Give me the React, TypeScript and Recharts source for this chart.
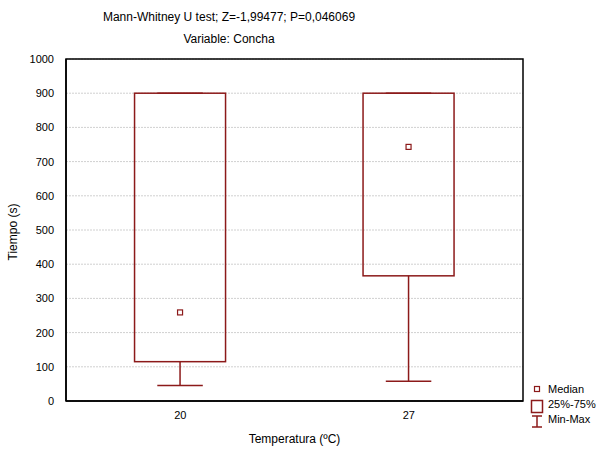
import React from 'react';
import { ComposedChart, Bar, XAxis, YAxis, CartesianGrid, ReferenceArea } from 'recharts';

const categories = ['20', '27'];
const minValues = [45, 58];
const q1Values = [115, 366];
const medianValues = [259, 743];
const q3Values = [900, 900];
const maxValues = [900, 900];
const yTicks = [0, 100, 200, 300, 400, 500, 600, 700, 800, 900, 1000];

const data = categories.map((c, i) => ({
  cat: c,
  min: minValues[i],
  q1: q1Values[i],
  median: medianValues[i],
  q3: q3Values[i],
  max: maxValues[i],
  range: [minValues[i], maxValues[i]],
}));

const RED = '#8c1a1a';
const FONT = '"Liberation Sans", Arial, sans-serif';

const BoxShape = (props: any) => {
  const { x, y, width, height, payload } = props;
  const { min, max, q1, q3, median } = payload;
  const span = max - min;
  const pix = (v: number) => y + (height * (max - v)) / span;
  const cx = x + width / 2;
  const capHalf = width / 4;
  const yq1 = pix(q1);
  const yq3 = pix(q3);
  const ymed = pix(median);
  const ymin = pix(min);
  const ymax = pix(max);
  return (
    <g>
      <line x1={cx} x2={cx} y1={yq1} y2={ymin} stroke={RED} strokeWidth={1.5} />
      <line x1={cx - capHalf} x2={cx + capHalf} y1={ymin} y2={ymin} stroke={RED} strokeWidth={1.5} />
      <line x1={cx} x2={cx} y1={ymax} y2={yq3} stroke={RED} strokeWidth={1.5} />
      <line x1={cx - capHalf} x2={cx + capHalf} y1={ymax} y2={ymax} stroke={RED} strokeWidth={1.5} />
      <rect x={x} y={yq3} width={width} height={yq1 - yq3} fill="none" stroke={RED} strokeWidth={1.5} />
      <rect x={cx - 2.5} y={ymed - 2.5} width={5} height={5} fill="#fff" stroke={RED} strokeWidth={1.2} />
    </g>
  );
};

export default function App() {
  return (
    <div style={{ position: 'absolute', left: 0, top: 0, width: 606, height: 452, fontFamily: FONT, background: '#fff' }}>
      <div style={{ position: 'absolute', left: 0, width: 458, top: 10, textAlign: 'center', fontSize: 12, lineHeight: '15px' }}>
        Mann-Whitney U test; Z=-1,99477; P=0,046069
      </div>
      <div style={{ position: 'absolute', left: 0, width: 458, top: 32, textAlign: 'center', fontSize: 12, lineHeight: '15px' }}>
        Variable: Concha
      </div>
      <ComposedChart
        width={606}
        height={452}
        data={data}
        margin={{ top: 59, right: 83, bottom: 21, left: 0 }}
        barCategoryGap="30%"
        style={{ position: 'absolute', left: 0, top: 0 }}
      >
        <CartesianGrid horizontal vertical={false} stroke="#d0d0d0" strokeDasharray="2 1" />
        <XAxis
          dataKey="cat"
          height={30}
          tick={{ fontSize: 11, fill: '#000', fontFamily: FONT }}
          tickLine={false}
          axisLine={{ stroke: '#000', strokeWidth: 1.5 }}
          tickMargin={4}
        />
        <YAxis
          width={66}
          domain={[0, 1000]}
          ticks={yTicks}
          interval={0}
          tick={{ fontSize: 11, fill: '#000', fontFamily: FONT }}
          tickLine={false}
          axisLine={{ stroke: '#000', strokeWidth: 1.5 }}
          tickMargin={6}
        />
        <ReferenceArea y1={0} y2={1000} fill="none" fillOpacity={0} stroke="#000" strokeWidth={1.5} ifOverflow="visible" />
        <Bar dataKey="range" isAnimationActive={false} shape={<BoxShape />} />
      </ComposedChart>
      <div
        style={{
          position: 'absolute',
          left: 13,
          top: 232,
          transform: 'translate(-50%, -50%) rotate(-90deg)',
          fontSize: 12,
          whiteSpace: 'nowrap',
        }}
      >
        Tiempo (s)
      </div>
      <div style={{ position: 'absolute', left: 0, width: 589, top: 432, textAlign: 'center', fontSize: 12, lineHeight: '15px' }}>
        Temperatura (ºC)
      </div>
      <svg style={{ position: 'absolute', left: 528, top: 382 }} width={20} height={48}>
        <rect x={6.5} y={4.5} width={5} height={5} fill="#fff" stroke={RED} strokeWidth={1.2} />
        <rect x={3.5} y={18.5} width={11} height={12} fill="none" stroke={RED} strokeWidth={1.5} />
        <line x1={9} x2={9} y1={34} y2={45} stroke={RED} strokeWidth={1.5} />
        <line x1={4} x2={14} y1={34} y2={34} stroke={RED} strokeWidth={1.5} />
        <line x1={4} x2={14} y1={45} y2={45} stroke={RED} strokeWidth={1.5} />
      </svg>
      <div style={{ position: 'absolute', left: 548, top: 382, fontSize: 11, lineHeight: '15px' }}>
        <div>Median</div>
        <div>25%-75%</div>
        <div>Min-Max</div>
      </div>
    </div>
  );
}
